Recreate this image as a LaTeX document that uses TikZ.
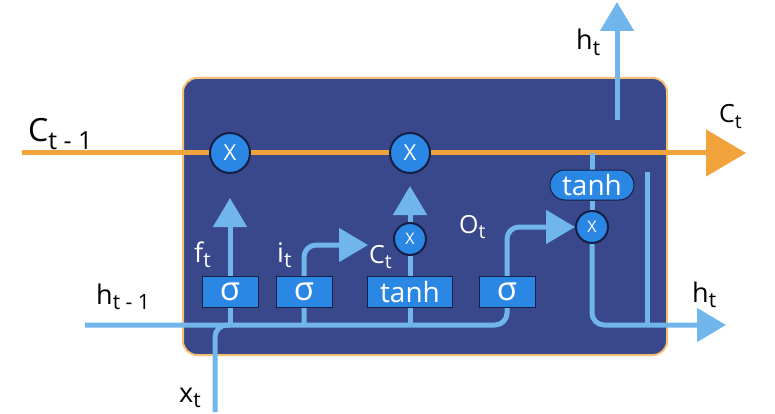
\documentclass[tikz,border=0pt]{standalone}
\usepackage{fontspec}
\setmainfont{Open Sans}
\usepackage{tikz}
\usetikzlibrary{calc}
\usetikzlibrary{positioning}
\usetikzlibrary{arrows.meta}
\definecolor{cellBlue}{RGB}{56,72,138}
\definecolor{cellOrange}{RGB}{241,163,60}
\definecolor{flowBlue}{RGB}{112,182,236}
\definecolor{gateBlue}{RGB}{42,136,228}
\definecolor{rimDark}{RGB}{22,30,70}
\newcommand{\lowsub}[1]{\raisebox{-0.22em}{\scalebox{0.78}{#1}}}
\pgfdeclarelayer{back}
\pgfdeclarelayer{links}
\pgfsetlayers{back,links,main}
\tikzset{
  cellNode/.style={%
    draw=cellOrange!70!white, line width=2pt, fill=cellBlue,
    rounded corners=14pt, minimum width=484pt, minimum height=277pt, inner sep=0pt,
  },
  gateNode/.style={%
    draw=rimDark, line width=1pt, fill=gateBlue, text=white,
    minimum width=56pt, minimum height=31pt, inner sep=0pt,
    font=\fontsize{28}{28}\selectfont,
  },
  sigNode/.style={%
    gateNode, font=\fontsize{33}{33}\selectfont,
  },
  mulNode/.style={%
    circle, draw=rimDark, line width=2pt, fill=gateBlue, text=white,
    minimum size=40pt, inner sep=0pt, font=\fontsize{22}{22}\selectfont,
  },
  smallMul/.style={%
    mulNode, minimum size=32pt, font=\fontsize{16}{16}\selectfont,
  },
  flowLine/.style={%
    draw=flowBlue, line width=5pt, rounded corners=12pt,
  },
  flowArrow/.style={%
    flowLine, -{Triangle[length=29pt,width=33pt]},
  },
  cellLine/.style={%
    draw=cellOrange, line width=5pt, -{Triangle[length=40pt,width=46pt]},
  },
  labelNode/.style={%
    inner sep=0pt, anchor=base west, font=\fontsize{27}{27}\selectfont,
  },
  innerLabel/.style={%
    labelNode, text=white,
  }
}

\begin{document}
\begin{tikzpicture}[x=1pt,y=-1pt]
        \useasboundingbox (0,0) rectangle (775,414);
        \begin{pgfonlayer}{back}
          \node[cellNode] (cell) at (425,216.5) {};
        \end{pgfonlayer}
        \node[mulNode] (mulF) at (230,153) {X};
        \node[mulNode] (mulI) at (410,153) {X};
        \node[smallMul] (mulC) at (410,239) {X};
        \node[smallMul] (mulO) at (592,227) {X};
        \node[sigNode] (sigF) at (230,292) {σ};
        \node[sigNode] (sigI) at (304,292) {σ};
        \node[gateNode, minimum width=85pt] (tanhC) at (410,292) {tanh};
        \node[sigNode] (sigO) at (507,292) {σ};
        \node[gateNode, minimum width=84pt, minimum height=30pt, rounded corners=15pt] (tanhO) at (592,185) {tanh};
        \coordinate (cIn) at (22,153);
        \coordinate (cOut) at (746,153);
        \coordinate (hIn) at (85,325);
        \coordinate (xIn) at (215,412);
        \coordinate (hOut) at (726,325);
        \coordinate (hUp) at (617,120);
        \coordinate (hTop) at (617,2);
        \coordinate (ctIn) at (368,245);
        \coordinate (splitTop) at (647,172);
        \begin{pgfonlayer}{links}
          \draw[cellLine] (cIn) -- (cOut);
          \draw[flowArrow] (hIn) -- (hIn -| sigO) -- (sigO |- mulO) -- (mulO);
          \draw[flowLine] (xIn) |- (sigF |- hIn);
          \draw[flowArrow, shorten >=24pt] (sigF |- hIn) -- (mulF);
          \draw[flowArrow] (sigI |- hIn) |- (ctIn);
          \draw[flowArrow, shorten >=12pt] (tanhC |- hIn) -- (mulI);
          \draw[flowLine] (tanhO |- cIn) -- (tanhO);
          \draw[flowLine] (tanhO) -- (mulO);
          \draw[flowArrow] (mulO) |- (hOut);
          \draw[flowLine] (splitTop) -- (splitTop |- hOut);
          \draw[flowArrow] (hUp) -- (hTop);
        \end{pgfonlayer}
        \node[labelNode, font=\fontsize{32}{32}\selectfont] (lblCPrev) at (28,142) {C\lowsub{t - 1}};
        \node[labelNode, font=\fontsize{25}{25}\selectfont] (lblCNext) at (719,123) {C\lowsub{t}};
        \node[labelNode] (lblHTop) at (576,50) {h\lowsub{t}};
        \node[labelNode] (lblHPrev) at (96,304) {h\lowsub{t - 1}};
        \node[labelNode] (lblHOut) at (692,302) {h\lowsub{t}};
        \node[labelNode] (lblX) at (179,402) {x\lowsub{t}};
        \node[innerLabel] (lblF) at (194,262) {f\lowsub{t}};
        \node[innerLabel] (lblI) at (277,262) {i\lowsub{t}};
        \node[innerLabel, font=\fontsize{25}{25}\selectfont] (lblC) at (369,263) {C\lowsub{t}};
        \node[innerLabel, font=\fontsize{25}{25}\selectfont] (lblO) at (459,233) {O\lowsub{t}};
      \end{tikzpicture}
\end{document}
